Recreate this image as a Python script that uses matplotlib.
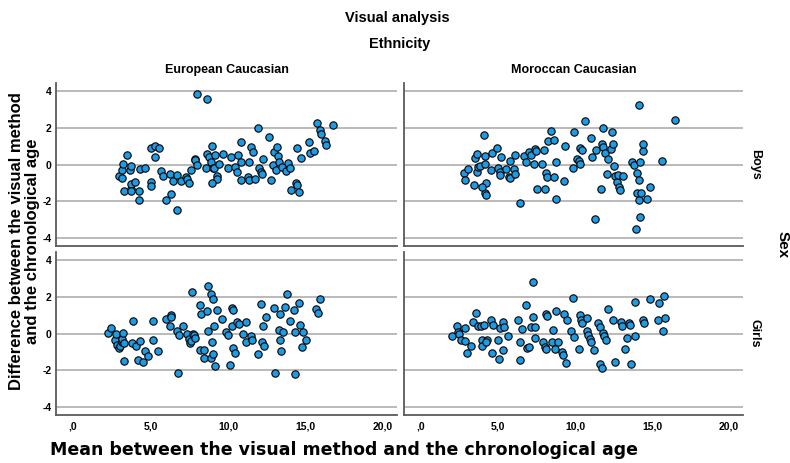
"""Visual analysis: difference vs mean, split by ethnicity (columns) and sex (rows)."""

import matplotlib

matplotlib.use("Agg")
import matplotlib.pyplot as plt

plt.rcParams["font.family"] = ["Liberation Sans", "DejaVu Sans"]

ETHNICITIES = ["European Caucasian", "Moroccan Caucasian"]
SEXES = ["Boys", "Girls"]

X_TICKS = [0, 5, 10, 15, 20]
X_TICK_LABELS = [",0", "5,0", "10,0", "15,0", "20,0"]
Y_TICKS = [-4, -2, 0, 2, 4]
Y_TICK_LABELS = ["-4", "-2", "0", "2", "4"]

# European Caucasian, boys
ec_boys_mean = [
    8.01, 8.66, 2.96, 3.13, 3.24, 3.49, 3.65, 3.77, 3.17, 3.28, 3.71, 3.77, 3.99,
    3.77, 4.25, 4.25, 4.35, 4.61, 5.00, 5.06, 5.06, 5.26, 5.56, 5.28, 5.65, 5.80,
    6.23, 6.46, 5.97, 6.29, 6.72, 6.72, 6.94, 7.30, 7.37, 7.47, 7.58, 7.84, 7.86,
    7.97, 8.55, 8.66, 8.76, 8.91, 8.96, 9.04, 9.09, 9.17, 9.26, 9.30, 9.41, 8.96,
    9.69, 10.01, 10.20, 10.44, 10.59, 10.66, 10.81, 10.85, 10.85, 11.26, 11.34,
    11.37, 11.45, 11.58, 11.75, 11.92, 11.99, 12.10, 12.18, 12.23, 12.63, 12.78,
    12.91, 12.98, 13.09, 13.13, 13.20, 13.28, 13.45, 13.73, 13.84, 13.99, 14.05,
    14.40, 14.46, 14.46, 14.61, 14.70, 15.24, 15.28, 15.52, 15.71, 15.92, 16.01,
    16.23, 16.31, 16.76,
]
ec_boys_diff = [
    3.84, 3.56, -0.62, -0.31, 0.05, 0.53, -0.27, -0.07, -0.71, -1.45, -1.35,
    -1.07, -0.95, -1.45, -1.45, -1.95, -0.22, -0.16, -0.95, -1.16, 0.89, 1.04,
    0.89, 0.40, -0.35, -0.60, -0.49, -0.91, -1.95, -1.62, -0.55, -2.49, -0.91,
    -0.67, -0.76, -1.00, -0.31, 0.29, 0.24, -0.04, -0.20, 0.56, 0.42, 0.13, 1.00,
    -0.18, -0.20, 0.53, -0.62, -0.78, 0.05, -1.02, 0.56, -0.16, 0.42, -0.13,
    -0.42, 0.55, 1.25, 0.13, -0.85, -0.67, 0.13, -0.85, 0.98, 0.67, -0.76, 1.98,
    -0.18, -0.42, -0.49, 0.33, 1.49, -0.82, -0.02, 0.67, -0.31, 0.98, 0.45, 0.15,
    -0.15, -0.35, 0.09, -0.20, -1.40, -1.00, -1.11, 0.89, -1.47, 0.36, 1.24, 0.64,
    0.75, 2.27, 1.89, 1.69, 1.27, 1.09, 2.18,
]

# Moroccan Caucasian, boys
mc_boys_mean = [
    14.16, 16.51, 2.81, 2.83, 3.04, 3.47, 3.52, 3.65, 3.62, 3.73, 3.86, 4.10,
    4.16, 4.14, 4.20, 4.14, 4.23, 3.99, 4.53, 4.59, 4.91, 4.98, 5.11, 5.15, 5.19,
    5.49, 5.71, 5.75, 5.77, 6.05, 6.12, 6.10, 6.42, 6.66, 6.81, 6.98, 7.11, 7.34,
    7.43, 7.49, 7.54, 7.86, 7.97, 8.03, 8.10, 8.23, 8.20, 8.44, 8.63, 8.66, 8.76,
    8.78, 9.28, 9.32, 9.88, 9.95, 10.14, 10.23, 10.31, 10.35, 10.42, 10.66, 11.04,
    11.09, 11.28, 11.39, 11.71, 11.73, 11.80, 11.82, 11.97, 12.08, 12.12, 12.35,
    12.40, 12.48, 12.55, 12.59, 12.74, 12.78, 12.87, 12.94, 13.09, 13.69, 13.80,
    13.99, 14.05, 14.16, 14.16, 14.23, 14.27, 14.23, 13.97, 14.38, 14.44, 14.68,
    14.85, 15.65,
]
mc_boys_diff = [
    3.24, 2.45, -0.45, -0.82, -0.22, -1.11, 0.38, 0.56, -0.42, -0.13, -0.09,
    1.62, 0.45, 0.05, -0.98, -1.53, -1.67, -1.22, -0.31, 0.64, 0.91, -0.16, -0.42,
    -0.58, 0.42, -0.25, -0.67, -0.73, 0.20, -0.22, -0.53, 0.55, -2.07, 0.45, 0.16,
    0.67, 0.51, 0.05, 0.84, 0.73, -1.35, 0.05, 0.78, -1.35, -0.45, 1.27, -0.69,
    1.82, -0.67, 1.33, 0.16, -1.85, -0.89, 1.02, -0.16, 1.80, 0.31, 0.22, 0.02,
    0.91, 0.82, 2.40, 1.45, 0.42, -2.95, 0.82, -1.35, 1.15, 0.98, 2.00, 0.64,
    -0.53, 0.31, 0.87, 1.80, 1.15, -0.07, -0.62, -0.95, -0.58, -1.22, -1.40,
    -0.62, 0.13, -0.02, -0.45, -1.53, -0.84, -1.91, 0.13, -1.56, -2.87, -3.49,
    0.76, 1.15, -1.85, -1.20, 0.22,
]

# European Caucasian, girls
ec_girls_mean = [
    2.27, 2.42, 2.72, 2.78, 2.85, 2.96, 3.06, 3.13, 3.17, 3.24, 3.28, 3.30, 3.80,
    3.86, 4.08, 4.20, 4.35, 4.53, 4.66, 4.81, 5.15, 5.19, 5.47, 5.97, 6.23, 6.29,
    6.35, 6.72, 6.81, 6.76, 7.11, 7.32, 7.45, 7.54, 7.62, 7.75, 7.82, 7.88, 7.67,
    8.16, 8.20, 8.23, 8.42, 8.42, 8.66, 8.70, 8.68, 8.87, 8.89, 8.94, 9.02, 9.02,
    9.09, 9.17, 9.30, 9.58, 9.88, 9.99, 10.14, 10.23, 10.27, 10.31, 10.33, 10.48,
    10.59, 10.72, 10.94, 11.13, 11.17, 11.47, 11.56, 11.95, 12.10, 12.16, 12.23,
    12.31, 12.48, 12.96, 13.02, 13.30, 13.34, 13.39, 13.37, 13.54, 13.67, 13.82,
    13.99, 14.25, 14.31, 14.33, 14.55, 14.63, 14.74, 14.85, 15.04, 15.69, 15.80,
    15.92,
]
ec_girls_diff = [
    0.05, 0.31, -0.33, -0.02, -0.60, -0.78, -0.65, -0.45, -0.27, 0.04, -0.51,
    -1.49, -0.51, 0.69, -0.69, -1.45, -0.38, -1.53, -0.93, -1.24, 0.69, -0.36,
    -0.93, 0.78, 0.42, 1.00, 0.89, 0.16, -0.05, -2.13, 0.42, -0.02, -0.29, -0.49,
    -0.38, -0.02, -0.05, -0.25, 2.25, -0.89, 1.58, 1.09, -0.87, -1.31, 1.25, 0.13,
    2.62, 2.15, -1.35, -0.47, 1.87, -1.11, 0.42, -1.76, 1.31, 0.78, 0.09, -0.09,
    -1.73, 0.44, 1.40, 1.31, -0.76, -1.04, 0.64, 0.53, -0.02, 0.62, -0.47, -0.15,
    -0.33, -1.11, 1.64, -0.47, 0.44, -0.69, 0.91, 1.40, -2.16, 0.22, -0.36, -0.96,
    1.07, 0.09, 1.47, 2.16, 0.69, 1.31, -2.22, 0.09, 1.67, 0.49, -0.71, 0.11,
    -0.33, 1.35, 1.13, 1.91,
]

# Moroccan Caucasian, girls
mc_girls_mean = [
    2.01, 2.35, 2.42, 2.44, 2.61, 2.83, 2.87, 2.98, 3.28, 3.39, 3.54, 3.71, 3.88,
    4.10, 3.99, 3.99, 4.27, 4.25, 4.55, 4.63, 4.68, 5.02, 5.09, 5.13, 5.32, 5.34,
    5.41, 5.67, 6.29, 6.40, 6.44, 6.57, 6.83, 6.89, 7.04, 7.13, 7.24, 7.30, 7.37,
    7.41, 7.90, 8.03, 8.10, 8.12, 8.20, 8.53, 8.57, 8.76, 8.72, 8.91, 9.13, 9.22,
    9.30, 9.43, 9.49, 9.75, 9.88, 9.95, 10.25, 10.33, 10.40, 10.48, 10.78, 10.76,
    10.87, 10.96, 11.04, 11.26, 11.52, 11.62, 11.65, 11.75, 11.80, 11.90, 11.99,
    12.12, 12.44, 12.57, 12.98, 13.04, 13.24, 13.39, 13.47, 13.54, 13.62, 13.88,
    13.92, 14.42, 14.48, 14.85, 15.43, 15.41, 15.71, 15.75, 15.84,
]
mc_girls_diff = [
    -0.11, 0.42, 0.09, -0.02, -0.36, 0.29, -0.40, -1.05, -0.67, 0.64, 1.11, 0.40,
    0.40, 0.49, -0.33, -0.67, -0.35, -0.47, 0.76, -1.07, 0.49, -0.33, -1.40, 0.33,
    0.64, -0.91, 0.35, -0.11, 0.73, -1.45, -0.45, 0.25, 1.56, -0.76, -0.73, 0.36,
    0.91, 2.82, -0.24, 0.36, -0.45, -0.75, -0.84, 1.05, 0.98, -0.45, 0.18, 1.22,
    -0.84, -0.45, -1.02, -1.15, 1.07, -1.60, 0.76, 0.16, 1.93, -0.16, -0.82, 1.04,
    0.76, 0.56, 0.87, 0.16, -0.09, -0.27, -0.45, -0.87, 0.56, 0.38, -1.64, -1.87,
    0.04, -0.15, -0.33, 1.36, 0.73, -1.53, 0.64, 0.44, -0.85, -0.22, 0.60, 0.49,
    -1.64, -0.11, 1.71, 0.75, 0.56, 1.89, 1.67, 0.73, 0.13, 2.04, 0.85,
]

PANELS = {
    ("Boys", "European Caucasian"): (ec_boys_mean, ec_boys_diff),
    ("Boys", "Moroccan Caucasian"): (mc_boys_mean, mc_boys_diff),
    ("Girls", "European Caucasian"): (ec_girls_mean, ec_girls_diff),
    ("Girls", "Moroccan Caucasian"): (mc_girls_mean, mc_girls_diff),
}

POINT_COLOR = "#1e9be3"
GRID_COLOR = "#b4b4b4"
SPINE_COLOR = "#5a5a5a"

# panel rectangles in figure fractions
COL_LEFT = [0.0709, 0.5114]
COL_WIDTH = [0.4316, 0.4291]
ROW_BOTTOM = [0.4687, 0.1037]
ROW_HEIGHT = 0.352


def main() -> None:
    fig = plt.figure(figsize=(7.9, 4.63), dpi=100)

    for row, sex in enumerate(SEXES):
        for col, ethnicity in enumerate(ETHNICITIES):
            ax = fig.add_axes([COL_LEFT[col], ROW_BOTTOM[row], COL_WIDTH[col], ROW_HEIGHT])
            mean, diff = PANELS[(sex, ethnicity)]
            ax.scatter(
                mean, diff, s=28, color=POINT_COLOR, edgecolor="black",
                linewidth=0.8, zorder=3,
            )
            ax.set_xlim(-1.1, 20.9)
            ax.set_ylim(-4.43, 4.45)
            ax.set_yticks(Y_TICKS)
            ax.set_xticks(X_TICKS)
            for y in Y_TICKS:
                ax.axhline(y, color=GRID_COLOR, linewidth=1.3, zorder=1)
            for side in ("top", "right"):
                ax.spines[side].set_visible(False)
            for side in ("left", "bottom"):
                ax.spines[side].set_color(SPINE_COLOR)
                ax.spines[side].set_linewidth(1.3)
            ax.tick_params(axis="y", length=0, pad=3, labelsize=7.5)
            ax.tick_params(axis="x", length=0, pad=5, labelsize=7.5)

            if col == 0:
                ax.set_yticklabels(Y_TICK_LABELS, fontweight="bold")
            else:
                ax.set_yticklabels([])
            if row == 1:
                ax.set_xticklabels(X_TICK_LABELS, fontweight="bold")
            else:
                ax.set_xticklabels([])

            if row == 0:
                ax.set_title(ethnicity, fontsize=9, fontweight="bold", pad=7)
            if col == 1:
                ax.text(
                    1.035, 0.5, sex, transform=ax.transAxes, rotation=-90,
                    ha="center", va="center", fontsize=9, fontweight="bold",
                )

    fig.text(0.503, 0.961, "Visual analysis", ha="center", va="center",
             fontsize=10.5, fontweight="bold")
    fig.text(0.506, 0.905, "Ethnicity", ha="center", va="center",
             fontsize=10.5, fontweight="bold")
    fig.text(0.991, 0.471, "Sex", rotation=-90, ha="center", va="center",
             fontsize=11, fontweight="bold")
    fig.text(
        0.031, 0.48,
        "Difference between the visual method\nand the chronological age",
        rotation=90, ha="center", va="center", fontsize=12, fontweight="bold",
        linespacing=1.05,
    )
    fig.text(
        0.435, 0.028, "Mean between the visual method and the chronological age",
        ha="center", va="center", fontsize=12.5, fontweight="bold",
        family=["DejaVu Sans"],
    )

    fig.savefig("out.png", dpi=100)
    plt.close(fig)


if __name__ == "__main__":
    main()
